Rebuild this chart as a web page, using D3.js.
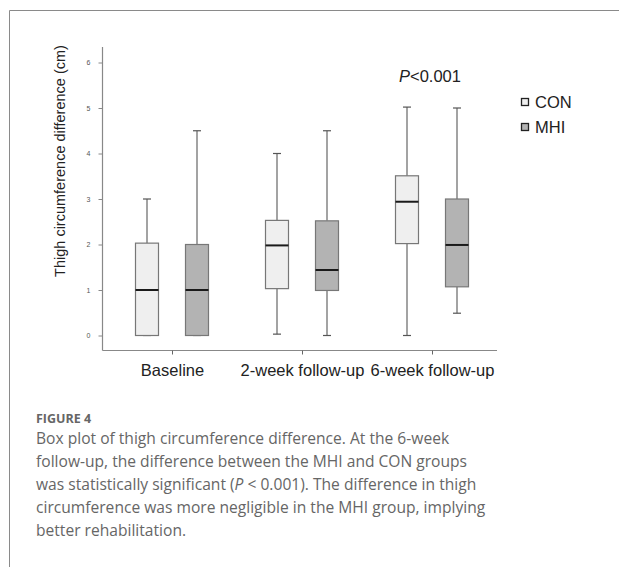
<!DOCTYPE html>
<html><head><meta charset="utf-8">
<script src="https://cdn.jsdelivr.net/npm/d3@7"></script>
<style>
html,body{margin:0;padding:0;background:#fff;}
svg{display:block;}
</style></head>
<body>
<svg id="chart" width="619" height="567"></svg>
<script>
const categories = ["Baseline", "2-week follow-up", "6-week follow-up"];
const groups = ["CON", "MHI"];
// [whiskerLow, Q1, median, Q3, whiskerHigh]
const conStats = [[0, 0, 1.0, 2.03, 3.0], [0.03, 1.03, 1.98, 2.53, 4.0], [0, 2.02, 2.94, 3.51, 5.02]];
const mhiStats = [[0, 0, 1.0, 2.0, 4.5], [0, 0.99, 1.44, 2.52, 4.5], [0.49, 1.07, 1.99, 3.0, 5.0]];
const yTicks = [0, 1, 2, 3, 4, 5, 6];
const groupColors = ["#efefef", "#b3b3b3"];
const captionTitle = "FIGURE 4";
const captionLines = [
  "Box plot of thigh circumference difference. At the 6-week",
  "follow-up, the difference between the MHI and CON groups",
  ["was statistically significant (", "P", " < 0.001). The difference in thigh"],
  "circumference was more negligible in the MHI group, implying",
  "better rehabilitation."
];

const svg = d3.select("#chart");
const font = "'Liberation Sans', Arial, sans-serif";

// frame (left and top borders)
svg.append("path").attr("d", "M9.5,567 V10.5 H619").attr("fill", "none").attr("stroke", "#8a8a8a").attr("stroke-width", 1);

const y = d3.scaleLinear().domain([0, 6]).range([335.5, 62.5]);
const xc = d3.scalePoint().domain(categories).range([172, 432]);
const off = d3.scaleOrdinal().domain(groups).range([-25, 25]);
const boxW = 23;

// axes lines
const g = svg.append("g");
g.append("line").attr("x1", 102.5).attr("x2", 102.5).attr("y1", 47).attr("y2", 350.5).attr("stroke", "#888").attr("stroke-width", 1.2);
g.append("line").attr("x1", 102.5).attr("x2", 497).attr("y1", 350.5).attr("y2", 350.5).attr("stroke", "#888").attr("stroke-width", 1.2);

const yAxis = d3.axisLeft(y).tickValues(yTicks).tickSize(4).tickPadding(8).tickFormat(d3.format("d"));
const ya = svg.append("g").attr("transform", "translate(102.5,0)").call(yAxis);
ya.select(".domain").remove();
ya.selectAll(".tick line").attr("stroke", "#888");
ya.selectAll(".tick text").attr("font-family", font).attr("font-size", 7).attr("fill", "#555");

const xAxis = d3.axisBottom(xc).tickSize(4).tickPadding(10);
const xa = svg.append("g").attr("transform", "translate(0,350.5)").call(xAxis);
xa.select(".domain").remove();
xa.selectAll(".tick line").attr("stroke", "#666");
xa.selectAll(".tick text").attr("font-family", font).attr("font-size", 16.5).attr("fill", "#222").attr("dy", "0.71em");

// y title
svg.append("text").attr("transform", "translate(65,161) rotate(-90)").attr("text-anchor", "middle")
  .attr("font-family", font).attr("font-size", 14.5).attr("fill", "#222").text("Thigh circumference difference (cm)");

// boxes
const data = [];
categories.forEach((c, i) => {
  data.push({cat: c, grp: "CON", s: conStats[i], fill: groupColors[0]});
  data.push({cat: c, grp: "MHI", s: mhiStats[i], fill: groupColors[1]});
});
const bg = svg.selectAll("g.box").data(data).join("g").attr("class", "box")
  .attr("transform", d => `translate(${xc(d.cat) + off(d.grp)},0)`);
bg.append("line").attr("x1", 0).attr("x2", 0).attr("y1", d => y(d.s[4])).attr("y2", d => y(d.s[3])).attr("stroke", "#666").attr("stroke-width", 1.2);
bg.append("line").attr("x1", 0).attr("x2", 0).attr("y1", d => y(d.s[1])).attr("y2", d => y(d.s[0])).attr("stroke", "#666").attr("stroke-width", 1.2);
bg.append("line").attr("x1", -4).attr("x2", 4).attr("y1", d => y(d.s[4])).attr("y2", d => y(d.s[4])).attr("stroke", "#555").attr("stroke-width", 1.2);
bg.append("line").attr("x1", -4).attr("x2", 4).attr("y1", d => y(d.s[0])).attr("y2", d => y(d.s[0])).attr("stroke", "#555").attr("stroke-width", 1.2);
bg.append("rect").attr("x", -boxW / 2).attr("width", boxW).attr("y", d => y(d.s[3])).attr("height", d => y(d.s[1]) - y(d.s[3]))
  .attr("fill", d => d.fill).attr("stroke", "#777").attr("stroke-width", 1.2);
bg.append("line").attr("x1", -boxW / 2).attr("x2", boxW / 2).attr("y1", d => y(d.s[2])).attr("y2", d => y(d.s[2])).attr("stroke", "#1a1a1a").attr("stroke-width", 2);

// P annotation
const pt = svg.append("text").attr("x", 430).attr("y", 82).attr("text-anchor", "middle").attr("font-family", font).attr("font-size", 16.5).attr("fill", "#222");
pt.append("tspan").attr("font-style", "italic").text("P");
pt.append("tspan").text("<0.001");

// legend
const lg = svg.selectAll("g.leg").data(groups).join("g").attr("class", "leg")
  .attr("transform", (d, i) => `translate(525,${102 + i * 25})`);
lg.append("rect").attr("x", -3.5).attr("y", -3.5).attr("width", 7).attr("height", 7)
  .attr("fill", (d, i) => groupColors[i]).attr("stroke", "#222").attr("stroke-width", 1.3);
lg.append("text").attr("x", 10).attr("y", 6).attr("font-family", font).attr("font-size", 16.5).attr("fill", "#222").text(d => d);

// caption
const cf = "'Open Sans', 'Noto Sans', sans-serif";
svg.append("text").attr("x", 36).attr("y", 423).attr("font-family", cf).attr("font-size", 12.5).attr("font-weight", 700).attr("fill", "#666").text(captionTitle);
captionLines.forEach((l, i) => {
  const t = svg.append("text").attr("x", 36).attr("y", 444 + i * 23).attr("font-family", cf).attr("font-size", 15.6).attr("fill", "#666");
  if (Array.isArray(l)) {
    l.forEach((s, j) => t.append("tspan").attr("font-style", j === 1 ? "italic" : null).text(s));
  } else t.text(l);
});
</script>
</body></html>
